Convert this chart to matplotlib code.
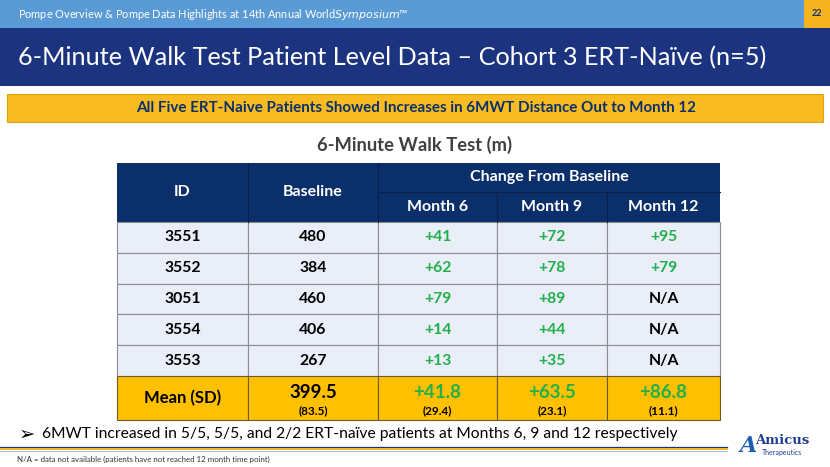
import matplotlib.pyplot as plt
from matplotlib.patches import Rectangle

plt.rcParams['font.family'] = ['Lato', 'DejaVu Sans']

# table data
patient_ids = ['3551', '3552', '3051', '3554', '3553']
baseline = [480, 384, 460, 406, 267]
month6 = [41, 62, 79, 14, 13]
month9 = [72, 78, 89, 44, 35]
month12 = [95, 79, None, None, None]
mean_vals = [399.5, 41.8, 63.5, 86.8]
sd_vals = [83.5, 29.4, 23.1, 11.1]
month_labels = ['Month 6', 'Month 9', 'Month 12']

NAVY = '#0b2f6b'
BAND = '#1c3480'
LIGHT = '#e9eef8'
GOLD = '#ffc000'
GREEN = '#21b04b'
GRID = '#8c8c8c'

fig = plt.figure(figsize=(8.3, 4.67), dpi=100)
ax = fig.add_axes([0, 0, 1, 1])
ax.set_xlim(0, 830)
ax.set_ylim(467, 0)
ax.axis('off')
renderer = fig.canvas.get_renderer()


def fit(t, width):
    # scale font so the text spans the given width in pixels (slide font is narrower than Lato)
    w = t.get_window_extent(renderer).width
    t.set_fontsize(t.get_fontsize() * width / w)
    return t


# top bars
ax.add_patch(Rectangle((0, 0), 804, 28, color='#5b9bd5', lw=0))
ax.add_patch(Rectangle((804, 0), 26, 28, color='#f5b31f', lw=0))
fit(ax.text(18, 14, 'Pompe Overview & Pompe Data Highlights at 14th Annual World$\\it{Symposium}$\u2122',
            color='white', fontsize=9, va='center'), 392)
ax.text(817, 14, '22', color=NAVY, fontsize=6.5, fontweight='bold', ha='center', va='center')

ax.add_patch(Rectangle((0, 28), 830, 58, color=BAND, lw=0))
fit(ax.text(18, 58, '6-Minute Walk Test Patient Level Data \u2013 Cohort 3 ERT-Na\u00efve (n=5)',
            color='white', fontsize=21, va='center'), 747)

ax.add_patch(Rectangle((7, 94), 816, 28, facecolor='#f8bb22', edgecolor='#e0a400', lw=0.8))
fit(ax.text(416, 108, 'All Five ERT-Naive Patients Showed Increases in 6MWT Distance Out to Month 12',
            color=NAVY, fontsize=11.5, fontweight='bold', ha='center', va='center'), 560)

fit(ax.text(414, 145, '6-Minute Walk Test (m)', color='#404040', fontsize=13.5,
            fontweight='bold', ha='center', va='center'), 195)

# table geometry
cols = [117, 248, 378, 497, 607, 720]
top, split, head_bot = 163, 192, 222
row_h = 30.8
mean_h = 44

# header
ax.add_patch(Rectangle((cols[0], top), cols[-1] - cols[0], head_bot - top, color=NAVY, lw=0))
ax.text((cols[0] + cols[1]) / 2, (top + head_bot) / 2, 'ID', color='white', fontsize=11.5,
        fontweight='bold', ha='center', va='center')
ax.text((cols[1] + cols[2]) / 2, (top + head_bot) / 2, 'Baseline', color='white', fontsize=11.5,
        fontweight='bold', ha='center', va='center')
ax.text((cols[2] + cols[5]) / 2, (top + split) / 2, 'Change From Baseline', color='white',
        fontsize=11.5, fontweight='bold', ha='center', va='center')
for i, lab in enumerate(month_labels):
    ax.text((cols[2 + i] + cols[3 + i]) / 2, (split + head_bot) / 2, lab, color='white',
            fontsize=11.5, fontweight='bold', ha='center', va='center')
ax.plot([cols[2], cols[5]], [split, split], color='#0a1f4a', lw=0.8)
for x in cols[1:5]:
    y0 = top if x <= cols[2] else split
    ax.plot([x, x], [y0, head_bot], color='#0a1f4a', lw=0.8)


def fmt(v):
    return 'N/A' if v is None else '+%d' % v


# data rows
for r, pid in enumerate(patient_ids):
    y = head_bot + r * row_h
    yc = y + row_h / 2
    for c in range(5):
        ax.add_patch(Rectangle((cols[c], y), cols[c + 1] - cols[c], row_h,
                               facecolor=LIGHT, edgecolor=GRID, lw=0.8))
    vals = [pid, str(baseline[r]), fmt(month6[r]), fmt(month9[r]), fmt(month12[r])]
    for c, v in enumerate(vals):
        col = GREEN if v.startswith('+') else 'black'
        ax.text((cols[c] + cols[c + 1]) / 2, yc, v, color=col, fontsize=11.3,
                fontweight='bold', ha='center', va='center')

# mean row
y = head_bot + len(patient_ids) * row_h
for c in range(5):
    ax.add_patch(Rectangle((cols[c], y), cols[c + 1] - cols[c], mean_h,
                           facecolor=GOLD, edgecolor='#6b5a2a', lw=0.8))
ax.text((cols[0] + cols[1]) / 2, y + mean_h / 2, 'Mean (SD)', color='black', fontsize=12,
        fontweight='bold', ha='center', va='center')
for i, (m, s) in enumerate(zip(mean_vals, sd_vals)):
    xc = (cols[i + 1] + cols[i + 2]) / 2
    lab = '%.1f' % m if i == 0 else '+%.1f' % m
    ax.text(xc, y + 16, lab, color='black' if i == 0 else GREEN, fontsize=13.5,
            fontweight='bold', ha='center', va='center')
    ax.text(xc, y + 35, '(%.1f)' % s, color='black', fontsize=8.5,
            fontweight='bold', ha='center', va='center')

# bullet and footer
ax.text(19, 434, '\u27a2', color='black', fontsize=14, va='center', family=['DejaVu Sans'])
fit(ax.text(42, 434, '6MWT increased in 5/5, 5/5, and 2/2 ERT-na\u00efve patients at Months 6, 9 and 12 respectively',
            color='black', fontsize=12.5, va='center'), 635)
ax.plot([0, 727], [446.5, 446.5], color=BAND, lw=0.9)
ax.plot([0, 727], [448.5, 448.5], color='#f5b31f', lw=1.4)
ax.plot([0, 727], [450.5, 450.5], color='#9dc3e6', lw=0.9)
fit(ax.text(17, 459, 'N/A = data not available (patients have not reached 12 month time point)',
            color='#333333', fontsize=5.5, va='center'), 255)

# logo text
ax.text(748, 446, 'A', color='#1f5fb0', fontsize=16, fontstyle='italic',
        fontweight='bold', family=['DejaVu Serif'], ha='center', va='center')
ax.text(782, 441, 'Amicus', color='#1f3f8f', fontsize=9.5, fontweight='bold',
        family=['DejaVu Serif'], ha='center', va='center')
ax.text(782, 453, 'Therapeutics', color='#1f3f8f', fontsize=5, ha='center', va='center')

plt.savefig('out.png', dpi=100)
